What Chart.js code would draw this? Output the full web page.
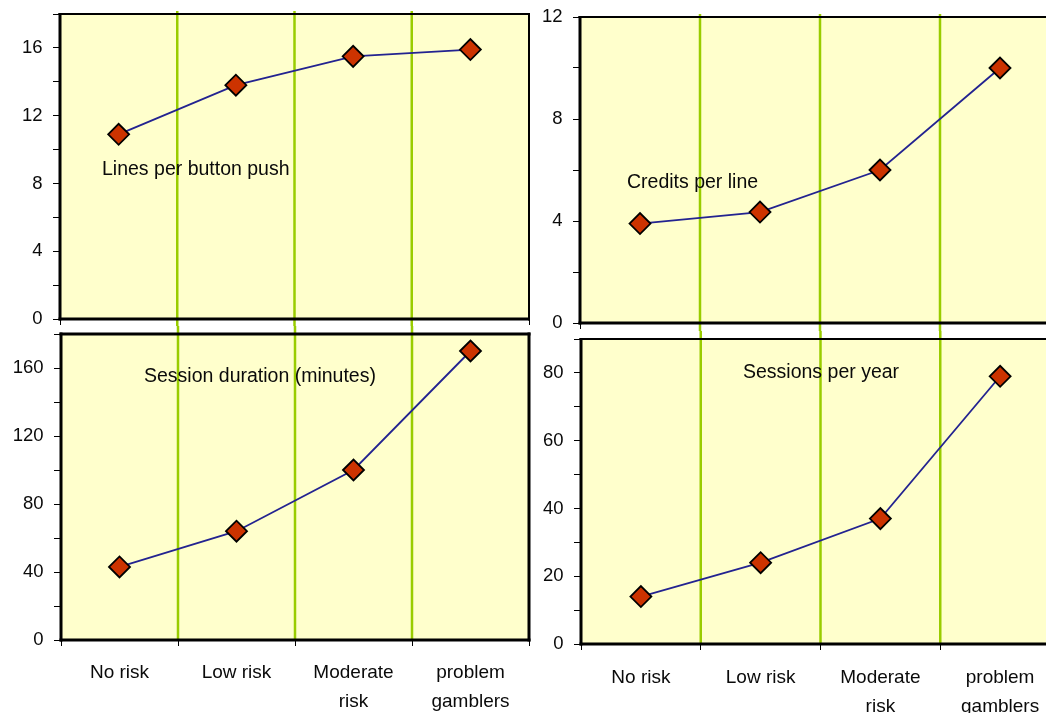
<!DOCTYPE html>
<html>
<head>
<meta charset="utf-8">
<script src="https://cdn.jsdelivr.net/npm/chart.js@4/dist/chart.umd.min.js"></script>
<style>
  html, body { margin: 0; padding: 0; background: #fff; }
  body { width: 1046px; height: 713px; overflow: hidden; position: relative; }
  canvas { position: absolute; }
</style>
</head>
<body>
<canvas id="tl" width="540" height="326" style="left:0;top:0;width:540px;height:326px"></canvas>
<canvas id="bl" width="540" height="387" style="left:0;top:326px;width:540px;height:387px"></canvas>
<canvas id="tr" width="535" height="331" style="left:540px;top:0;width:535px;height:331px"></canvas>
<canvas id="br" width="535" height="382" style="left:540px;top:331px;width:535px;height:382px"></canvas>
<script>
// ---- data ----
const categories = ['No risk', 'Low risk', ['Moderate', 'risk'], ['problem', 'gamblers']];
const linesPerPush = [10.9, 13.8, 15.5, 15.9];
const creditsPerLine = [3.9, 4.35, 6.0, 10.0];
const sessionDuration = [43, 64, 100, 170];
const sessionsPerYear = [14, 24, 37, 79];
const ticksLinesPerPush = [0, 4, 8, 12, 16];
const ticksCreditsPerLine = [0, 4, 8, 12];
const ticksSessionDuration = [0, 40, 80, 120, 160];
const ticksSessionsPerYear = [0, 20, 40, 60, 80];
const titles = ['Lines per button push', 'Credits per line', 'Session duration (minutes)', 'Sessions per year'];

// ---- styles ----
const BG = '#FFFFCC';
const GREEN = '#99CC00';
const LINE = '#232390';
const MARK = '#CC3300';
const TEXT = '#0a0a0a';
const FONT = 'Liberation Sans, Arial, sans-serif';

function panelPlugin(o) {
  return {
    id: 'panel_' + o.id,
    beforeDraw(chart) {
      const ctx = chart.ctx, a = chart.chartArea;
      ctx.save();
      ctx.fillStyle = BG;
      ctx.fillRect(a.left, a.top, a.right - a.left, a.bottom - a.top);
      ctx.restore();
    },
    beforeDatasetsDraw(chart) {
      const ctx = chart.ctx, a = chart.chartArea, xs = chart.scales.x;
      ctx.save();
      // green separators
      ctx.strokeStyle = GREEN;
      ctx.lineWidth = 2.5;
      const y0 = o.top ? a.top - 3 : 0;
      const y1 = o.top ? chart.height : a.bottom;
      for (let i = 0; i < categories.length - 1; i++) {
        const px = (xs.getPixelForValue(i) + xs.getPixelForValue(i + 1)) / 2;
        ctx.beginPath();
        ctx.moveTo(px, y0);
        ctx.lineTo(px, y1);
        ctx.stroke();
      }
      // frame
      ctx.fillStyle = '#000';
      const b = o.border; // [top,right,bottom,left]
      const w = a.right - a.left, h = a.bottom - a.top;
      ctx.fillRect(a.left - b[3] / 2, a.top - b[0] / 2, w + b[3] / 2 + b[1] / 2, b[0]);
      ctx.fillRect(a.right - b[1] / 2, a.top - b[0] / 2, b[1], h + b[0] / 2 + b[2] / 2);
      ctx.fillRect(a.left - b[3] / 2, a.bottom - b[2] / 2, w + b[3] / 2 + b[1] / 2, b[2]);
      ctx.fillRect(a.left - b[3] / 2, a.top - b[0] / 2, b[3], h + b[0] / 2 + b[2] / 2);
      // in-plot title
      ctx.fillStyle = TEXT;
      ctx.font = '19.5px ' + FONT;
      ctx.textBaseline = 'middle';
      ctx.textAlign = 'left';
      ctx.fillText(o.title, o.tx, o.ty);
      ctx.restore();
    }
  };
}

function noPad(s) {
  s.paddingTop = 0; s.paddingBottom = 0; s.paddingLeft = 0; s.paddingRight = 0;
}

function makeChart(id, data, major, max, step, o) {
  const cfg = {
    type: 'line',
    data: {
      labels: categories,
      datasets: [{
        data: data,
        borderColor: LINE,
        borderWidth: 1.8,
        tension: 0,
        clip: false,
        pointStyle: 'rectRot',
        pointRadius: 10.5,
        pointHoverRadius: 10.5,
        pointBackgroundColor: MARK,
        pointBorderColor: '#000',
        pointBorderWidth: 1.8
      }]
    },
    options: {
      responsive: false,
      animation: false,
      devicePixelRatio: 1,
      layout: { autoPadding: false, padding: { top: o.padTop, right: o.padRight, left: 0, bottom: 0 } },
      plugins: { legend: { display: false }, tooltip: { enabled: false }, title: { display: false } },
      scales: {
        x: {
          type: 'category',
          offset: true,
          border: { display: false },
          grid: { offset: true, drawOnChartArea: false, drawTicks: true, tickLength: 6, color: '#000', lineWidth: 1 },
          ticks: {
            display: o.showX,
            autoSkip: false,
            maxRotation: 0,
            padding: o.xPad,
            color: TEXT,
            font: { family: FONT, size: 19, lineHeight: 1.53 }
          },
          afterFit: (s) => { s.height = o.xH; noPad(s); }
        },
        y: {
          min: 0, max: max,
          border: { display: false },
          grid: { drawOnChartArea: false, drawTicks: true, tickLength: 7, color: '#000', lineWidth: 1 },
          ticks: {
            stepSize: step,
            autoSkip: false,
            padding: 10.5,
            color: TEXT,
            font: { family: FONT, size: 18.5 },
            callback: (v) => major.includes(v) ? String(v) : ''
          },
          afterFit: (s) => { s.width = o.yW; noPad(s); }
        }
      }
    },
    plugins: [panelPlugin(o)]
  };
  return new Chart(document.getElementById(id), cfg);
}

makeChart('tl', linesPerPush, ticksLinesPerPush, 18, 2, {
  id: 'tl', top: true, padTop: 14, padRight: 11, yW: 60, xH: 7, showX: false, xPad: 0,
  border: [2, 2, 3, 3], title: titles[0], tx: 102, ty: 170
});
makeChart('bl', sessionDuration, ticksSessionDuration, 180, 20, {
  id: 'bl', top: false, padTop: 8, padRight: 11, yW: 61, xH: 73, showX: true, xPad: 12.5,
  border: [3, 3, 3, 3], title: titles[2], tx: 144, ty: 377 - 326
});
makeChart('tr', creditsPerLine, ticksCreditsPerLine, 12, 2, {
  id: 'tr', top: true, padTop: 17, padRight: 15, yW: 40, xH: 8, showX: false, xPad: 0,
  border: [2, 2, 3, 3], title: titles[1], tx: 627 - 540, ty: 183
});
makeChart('br', sessionsPerYear, ticksSessionsPerYear, 90, 10, {
  id: 'br', top: false, padTop: 8, padRight: 15, yW: 41, xH: 69, showX: true, xPad: 13.5,
  border: [2, 2, 3, 3], title: titles[3], tx: 743 - 540, ty: 373 - 331
});
</script>
</body>
</html>
